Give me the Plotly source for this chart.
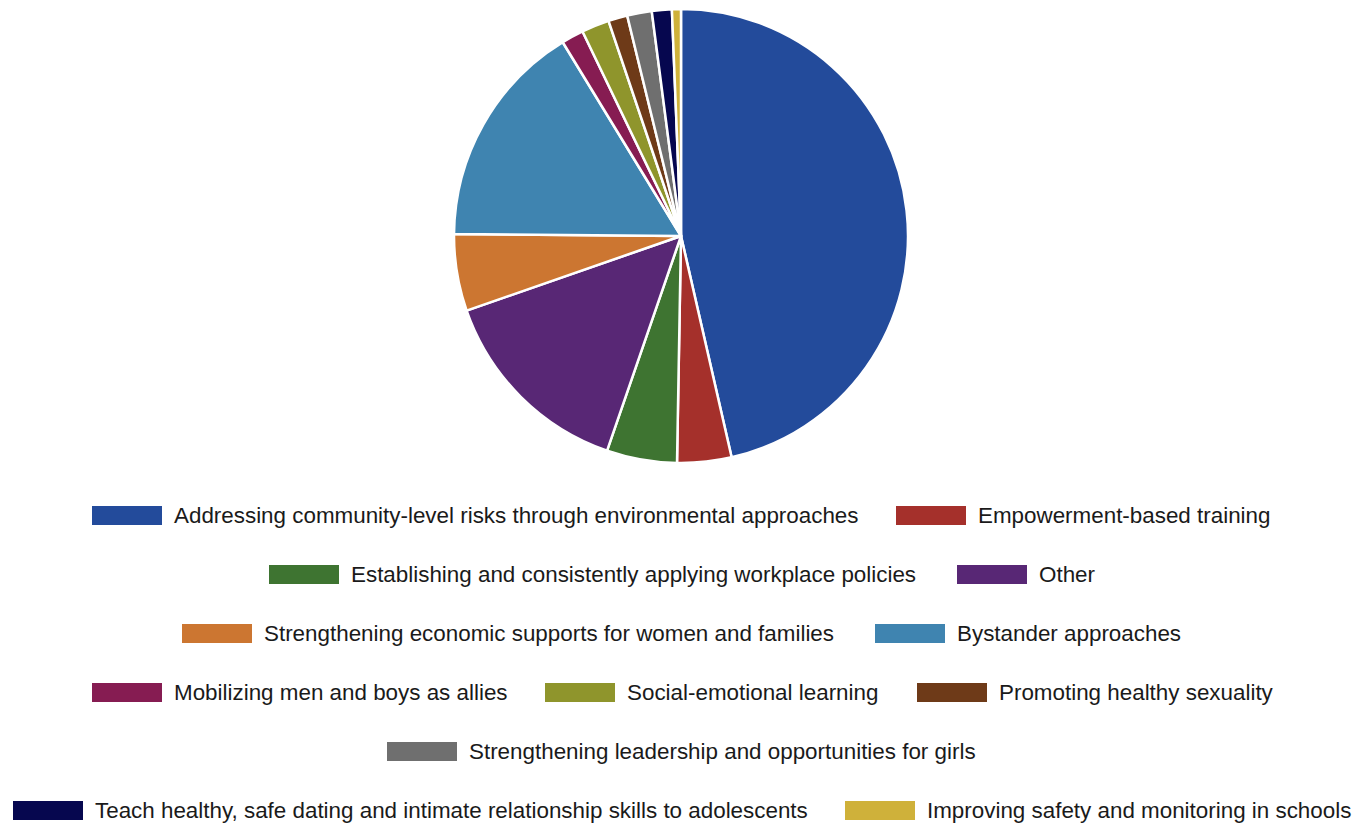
import plotly.graph_objects as go

# Share of programs by prevention strategy (percent)
categories = [
    "Addressing community-level risks through environmental approaches",
    "Empowerment-based training",
    "Establishing and consistently applying workplace policies",
    "Other",
    "Strengthening economic supports for women and families",
    "Bystander approaches",
    "Mobilizing men and boys as allies",
    "Social-emotional learning",
    "Promoting healthy sexuality",
    "Strengthening leadership and opportunities for girls",
    "Teach healthy, safe dating and intimate relationship skills to adolescents",
    "Improving safety and monitoring in schools",
]
values = [46.42, 3.86, 5.0, 14.39, 5.47, 16.14, 1.58, 1.97, 1.36, 1.75, 1.42, 0.64]
colors = [
    "#234b9b", "#a5302b", "#3e7431", "#582775", "#cc7631", "#3f84b0",
    "#861c52", "#8f952c", "#6e3a18", "#6f6f6f", "#06074f", "#cfb13a",
]

W, H = 1369, 823

fig = go.Figure(
    go.Pie(
        labels=categories,
        values=values,
        sort=False,
        direction="clockwise",
        rotation=0,
        marker=dict(colors=colors, line=dict(color="white", width=2.5)),
        textinfo="none",
        showlegend=False,
        domain=dict(x=[454 / W, 908 / W], y=[1 - 463.5 / H, 1 - 8.5 / H]),
    )
)

# Custom legend: wide colour swatches laid out in centred rows
legend_rows = [
    [(0, 92), (1, 896)],
    [(2, 269), (3, 957)],
    [(4, 182), (5, 875)],
    [(6, 92), (7, 545), (8, 917)],
    [(9, 387)],
    [(10, 13), (11, 845)],
]
row_y = [515.5, 574.5, 633.5, 692.5, 751.5, 810.5]
sw_w, sw_h, gap = 70, 19, 10

shapes, annotations = [], []
for row, yc in zip(legend_rows, row_y):
    for idx, x0 in row:
        shapes.append(dict(
            type="rect", xref="paper", yref="paper",
            x0=x0 / W, x1=(x0 + sw_w) / W,
            y0=1 - (yc + sw_h / 2) / H, y1=1 - (yc - sw_h / 2) / H,
            fillcolor=colors[idx], line=dict(width=0),
        ))
        annotations.append(dict(
            xref="paper", yref="paper",
            x=(x0 + sw_w + gap) / W, y=1 - yc / H,
            xanchor="left", yanchor="middle",
            text=categories[idx], showarrow=False,
            font=dict(family="Liberation Sans, Arial, sans-serif", size=22.4, color="#1a1a1a"),
        ))

fig.update_layout(
    width=W, height=H,
    margin=dict(l=0, r=0, t=0, b=0),
    paper_bgcolor="white",
    plot_bgcolor="white",
    shapes=shapes,
    annotations=annotations,
)

fig.write_html("out.html")
